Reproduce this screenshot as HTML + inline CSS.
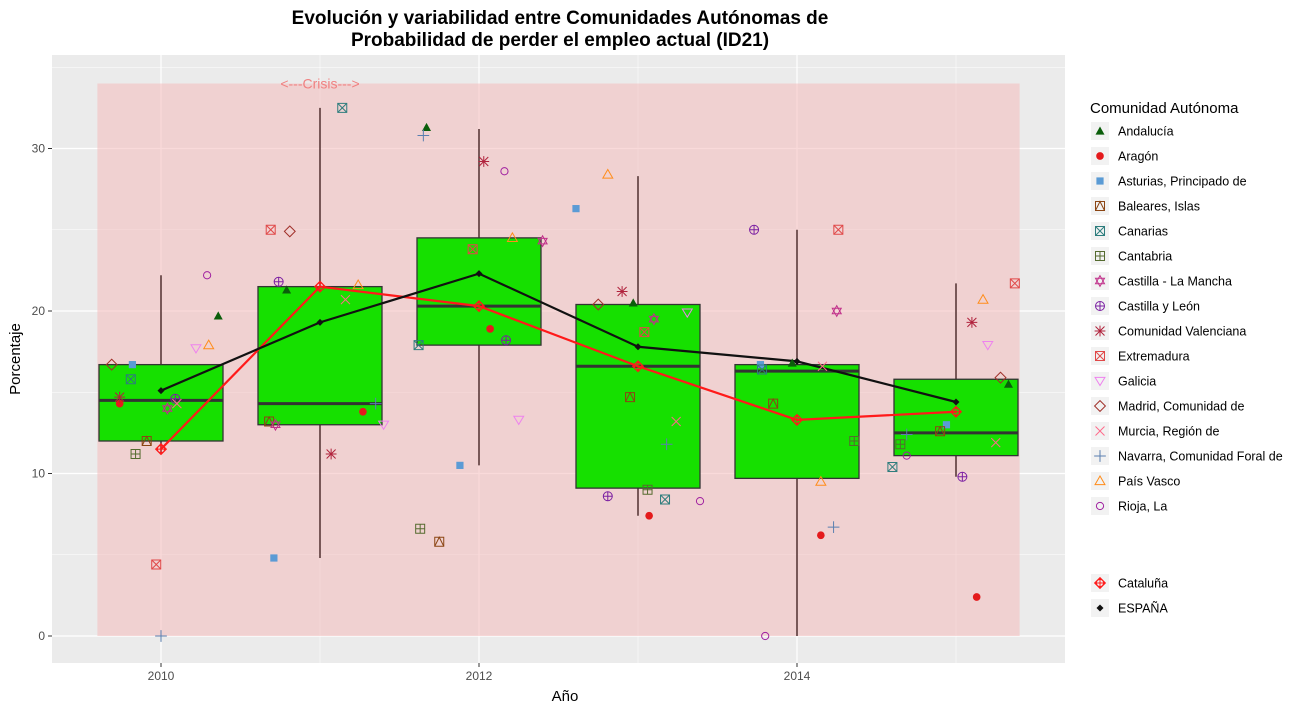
<!DOCTYPE html>
<html><head><meta charset="utf-8"><style>
body{margin:0;background:#fff;font-family:"Liberation Sans",sans-serif;}
svg text{font-family:"Liberation Sans",sans-serif;}
</style></head><body>
<svg id="c" width="1299" height="710" xmlns="http://www.w3.org/2000/svg">
<rect width="1299" height="710" fill="#fff"/>
<text x="560" y="24" text-anchor="middle" font-size="19" font-weight="bold" fill="#000">Evolución y variabilidad entre Comunidades Autónomas de</text>
<text x="560" y="46" text-anchor="middle" font-size="19" font-weight="bold" fill="#000">Probabilidad de perder el empleo actual (ID21)</text>
<rect x="52" y="55" width="1013" height="608" fill="#ebebeb"/>
<g id="grid"></g>
<rect id="crisis" fill="#f4bcbc" opacity="0.55"/>
<text id="crisisT" font-size="14" fill="#f08080" text-anchor="middle">&lt;---Crisis---&gt;</text>
<g id="boxes"></g><g id="lines"></g><g id="pts"></g><g id="axes"></g>
<text x="565" y="701" text-anchor="middle" font-size="15" fill="#000">Año</text>
<text transform="translate(20,359) rotate(-90)" text-anchor="middle" font-size="15" fill="#000">Porcentaje</text>
<text x="1090" y="113" font-size="15" fill="#000">Comunidad Autónoma</text>
<g id="legend"></g>
</svg>
<script>
const years=[2010,2011,2012,2013,2014,2015];
const regions=["Andalucía","Aragón","Asturias, Principado de","Baleares, Islas","Canarias","Cantabria","Castilla - La Mancha","Castilla y León","Comunidad Valenciana","Extremadura","Galicia","Madrid, Comunidad de","Murcia, Región de","Navarra, Comunidad Foral de","País Vasco","Rioja, La"];
const shapes=["tri","dot","sq","sqtri","sqx","sqplus","star","cplus","aster","sqx2","tridown","diamond","x","plus","triup","circle"];
const colors=["#0b5e0b","#e41a1c","#5b9bd5","#8b4513","#2e7d7d","#556b2f","#c0308a","#7b1fa2","#b0223c","#e04848","#ee82ee","#a0302a","#ff6a8a","#5a7fb0","#ff8c1a","#a020a0"];
const vals=[
[19.7,21.3,31.3,20.5,16.8,15.5],
[14.3,13.8,18.9,7.4,6.2,2.4],
[16.7,4.8,10.5,26.3,16.7,13.0],
[12.0,13.2,5.8,14.7,14.3,12.6],
[15.8,32.5,17.9,8.4,16.4,10.4],
[11.2,null,6.6,9.0,12.0,11.8],
[14.0,13.0,24.3,19.5,20.0,null],
[14.6,21.8,18.2,8.6,25.0,9.8],
[14.7,11.2,29.2,21.2,null,19.3],
[4.4,25.0,23.8,18.7,25.0,21.7],
[17.7,13.0,13.3,19.9,null,17.9],
[16.7,24.9,null,20.4,null,15.9],
[14.3,20.7,null,13.2,16.6,11.9],
[0.0,14.3,30.8,11.8,6.7,12.4],
[17.9,21.6,24.5,28.4,9.5,20.7],
[22.2,null,28.6,8.3,0.0,11.1]];
const jit=[
[0.36,-0.21,-0.33,-0.03,-0.03,0.33],
[-0.26,0.27,0.07,0.07,0.15,0.13],
[-0.18,-0.29,-0.12,-0.39,-0.23,-0.06],
[-0.09,-0.32,-0.25,-0.05,-0.15,-0.1],
[-0.19,0.14,-0.38,0.17,-0.22,-0.4],
[-0.16,0,-0.37,0.06,0.36,-0.35],
[0.04,-0.28,0.4,0.1,0.25,0],
[0.09,-0.26,0.17,-0.19,-0.27,0.04],
[-0.26,0.07,0.03,-0.1,0,0.1],
[-0.03,-0.31,-0.04,0.04,0.26,0.37],
[0.22,0.4,0.25,0.31,0,0.2],
[-0.31,-0.19,0,-0.25,0,0.28],
[0.1,0.16,0,0.24,0.16,0.25],
[0,0.35,-0.35,0.18,0.23,-0.31],
[0.3,0.24,0.21,-0.19,0.15,0.17],
[0.29,0,0.16,0.39,-0.2,-0.31]];
const q1=[12.0,13.0,17.9,9.1,9.7,11.1];
const med=[14.5,14.3,20.3,16.6,16.3,12.5];
const q3=[16.7,21.5,24.5,20.4,16.7,15.8];
const wlo=[11.2,4.8,10.5,7.4,0.0,9.8];
const whi=[22.2,32.5,31.2,28.3,25.0,21.7];
const espana=[15.1,19.3,22.3,17.8,16.9,14.4];
const cataluna=[11.5,21.5,20.3,16.6,13.3,13.8];
const yTicks=[0,10,20,30];
const xTicks=[2010,2012,2014];
const crisisRange=[2009.6,2015.4,0,34];

const NS="http://www.w3.org/2000/svg";
const xs=y=>161+(y-2010)*159;
const ys=v=>636-v*16.25;
function mk(tag,at,par){const e=document.createElementNS(NS,tag);for(const k in at)e.setAttribute(k,at[k]);par.appendChild(e);return e;}
const G=id=>document.getElementById(id);
// grid
const g=G('grid');
for(let v=-5;v<=35;v+=5){const y=ys(v);if(y<55||y>663)continue;const l=mk('line',{x1:52,x2:1065,y1:y,y2:y,stroke:'#fff','stroke-width':v%10===0?1.2:0.5},g);

}
for(let yr=2009;yr<=2015;yr++){const x=xs(yr);if(x<52)continue;const l=mk('line',{x1:x,x2:x,y1:55,y2:663,stroke:'#fff','stroke-width':yr%2===0?1.2:0.5},g);

}
const cr=G('crisis');cr.setAttribute('x',xs(crisisRange[0]));cr.setAttribute('width',xs(crisisRange[1])-xs(crisisRange[0]));cr.setAttribute('y',ys(crisisRange[3]));cr.setAttribute('height',ys(crisisRange[2])-ys(crisisRange[3]));
const ct=G('crisisT');ct.setAttribute('x',xs(2011));ct.setAttribute('y',ys(crisisRange[3])+5);
// boxes
const bx=G('boxes');
years.forEach((yr,i)=>{const x=xs(yr),hw=62;
const w=mk('line',{x1:x,x2:x,y1:ys(whi[i]),y2:ys(wlo[i]),stroke:'#5a3a3a','stroke-width':1.6},bx);


const r=mk('rect',{x:x-hw,width:2*hw,y:ys(q3[i]),height:ys(q1[i])-ys(q3[i]),fill:'#16e000',stroke:'#333','stroke-width':1.3},bx);


const m=mk('line',{x1:x-hw,x2:x+hw,y1:ys(med[i]),y2:ys(med[i]),stroke:'#333','stroke-width':3},bx);

});
// marker
function marker(par,shape,cx,cy,col,s){const gg=mk('g',{fill:'none',stroke:col,'stroke-width':1},par);const r=s||4.5;
const L=(a,b,c,d)=>mk('line',{x1:cx+a,y1:cy+b,x2:cx+c,y2:cy+d},gg);
switch(shape){
case 'tri':mk('polygon',{points:`${cx},${cy-r} ${cx-r},${cy+r*0.8} ${cx+r},${cy+r*0.8}`,fill:col,stroke:'none'},gg);break;
case 'dot':mk('circle',{cx,cy,r:r*0.85,fill:col,stroke:'none'},gg);break;
case 'sq':mk('rect',{x:cx-r*0.8,y:cy-r*0.8,width:r*1.6,height:r*1.6,fill:col,stroke:'none'},gg);break;
case 'sqtri':mk('rect',{x:cx-r,y:cy-r,width:2*r,height:2*r},gg);mk('polyline',{points:`${cx-r},${cy+r} ${cx},${cy-r} ${cx+r},${cy+r}`},gg);break;
case 'sqx':case 'sqx2':mk('rect',{x:cx-r,y:cy-r,width:2*r,height:2*r},gg);L(-r,-r,r,r);L(-r,r,r,-r);break;
case 'sqplus':mk('rect',{x:cx-r,y:cy-r,width:2*r,height:2*r},gg);L(0,-r,0,r);L(-r,0,r,0);break;
case 'star':mk('polygon',{points:`${cx},${cy-r*1.2} ${cx-r},${cy+r*0.6} ${cx+r},${cy+r*0.6}`},gg);mk('polygon',{points:`${cx},${cy+r*1.2} ${cx-r},${cy-r*0.6} ${cx+r},${cy-r*0.6}`},gg);break;
case 'cplus':mk('circle',{cx,cy,r},gg);L(0,-r,0,r);L(-r,0,r,0);break;
case 'aster':L(0,-r*1.2,0,r*1.2);L(-r,-r,r,r);L(-r,r,r,-r);L(-r*1.2,0,r*1.2,0);break;
case 'tridown':mk('polygon',{points:`${cx-r*1.1},${cy-r*0.8} ${cx+r*1.1},${cy-r*0.8} ${cx},${cy+r}`},gg);break;
case 'diamond':mk('polygon',{points:`${cx},${cy-r*1.2} ${cx+r*1.2},${cy} ${cx},${cy+r*1.2} ${cx-r*1.2},${cy}`},gg);break;
case 'x':L(-r,-r,r,r);L(-r,r,r,-r);break;
case 'plus':L(0,-r*1.3,0,r*1.3);L(-r*1.3,0,r*1.3,0);break;
case 'triup':mk('polygon',{points:`${cx},${cy-r*1.1} ${cx-r*1.1},${cy+r*0.8} ${cx+r*1.1},${cy+r*0.8}`},gg);break;
case 'circle':mk('circle',{cx,cy,r:r*0.8},gg);break;
case 'catal':mk('polygon',{points:`${cx},${cy-r*1.2} ${cx+r*1.2},${cy} ${cx},${cy+r*1.2} ${cx-r*1.2},${cy}`},gg);mk('circle',{cx,cy,r:r*0.8},gg);L(0,-r*1.2,0,r*1.2);L(-r*1.2,0,r*1.2,0);break;
case 'espd':mk('polygon',{points:`${cx},${cy-r} ${cx+r},${cy} ${cx},${cy+r} ${cx-r},${cy}`,fill:col,stroke:'none'},gg);break;}
return gg;}
// lines
const ln=G('lines');
function series(arr,col,name,shape){const p=mk('polyline',{points:arr.map((v,i)=>xs(years[i])+','+ys(v)).join(' '),fill:'none',stroke:col,'stroke-width':2.2},ln);


arr.forEach((v,i)=>{const m=marker(ln,shape,xs(years[i]),ys(v),col,shape==='espd'?3.5:4.5);

});}
series(cataluna,'#ff1a1a','cataluna','catal');
series(espana,'#111','espana','espd');
// points
const pt=G('pts');
regions.forEach((rn,ri)=>{vals[ri].forEach((v,i)=>{if(v===null)return;
const m=marker(pt,shapes[ri],xs(years[i]+jit[ri][i]),ys(v),colors[ri]);

});});
// axes
const ax=G('axes');
yTicks.forEach(v=>{const y=ys(v);mk('line',{x1:48,x2:52,y1:y,y2:y,stroke:'#333'},ax);const t=mk('text',{x:45,y:y+4,'text-anchor':'end','font-size':12,fill:'#4d4d4d'},ax);t.textContent=v;

});
xTicks.forEach(v=>{const x=xs(v);mk('line',{x1:x,x2:x,y1:663,y2:667,stroke:'#333'},ax);const t=mk('text',{x:x,y:680,'text-anchor':'middle','font-size':12,fill:'#4d4d4d'},ax);t.textContent=v;

});
// legend
const lg=G('legend');
function legItem(y,shape,col,label,sz){const gg=mk('g',{},lg);


mk('rect',{x:1091,y:y-9,width:18,height:18,fill:'#f2f2f2'},gg);marker(gg,shape,1100,y,col,sz||4.5);
const t=mk('text',{x:1118,y:y+4.5,'font-size':12.5,fill:'#000'},gg);t.textContent=label;}
regions.forEach((r,i)=>legItem(131+i*25,shapes[i],colors[i],r));
legItem(583,'catal','#ff1a1a','Cataluña');
legItem(608,'espd','#111','ESPAÑA',3.5);
</script>
</body></html>
